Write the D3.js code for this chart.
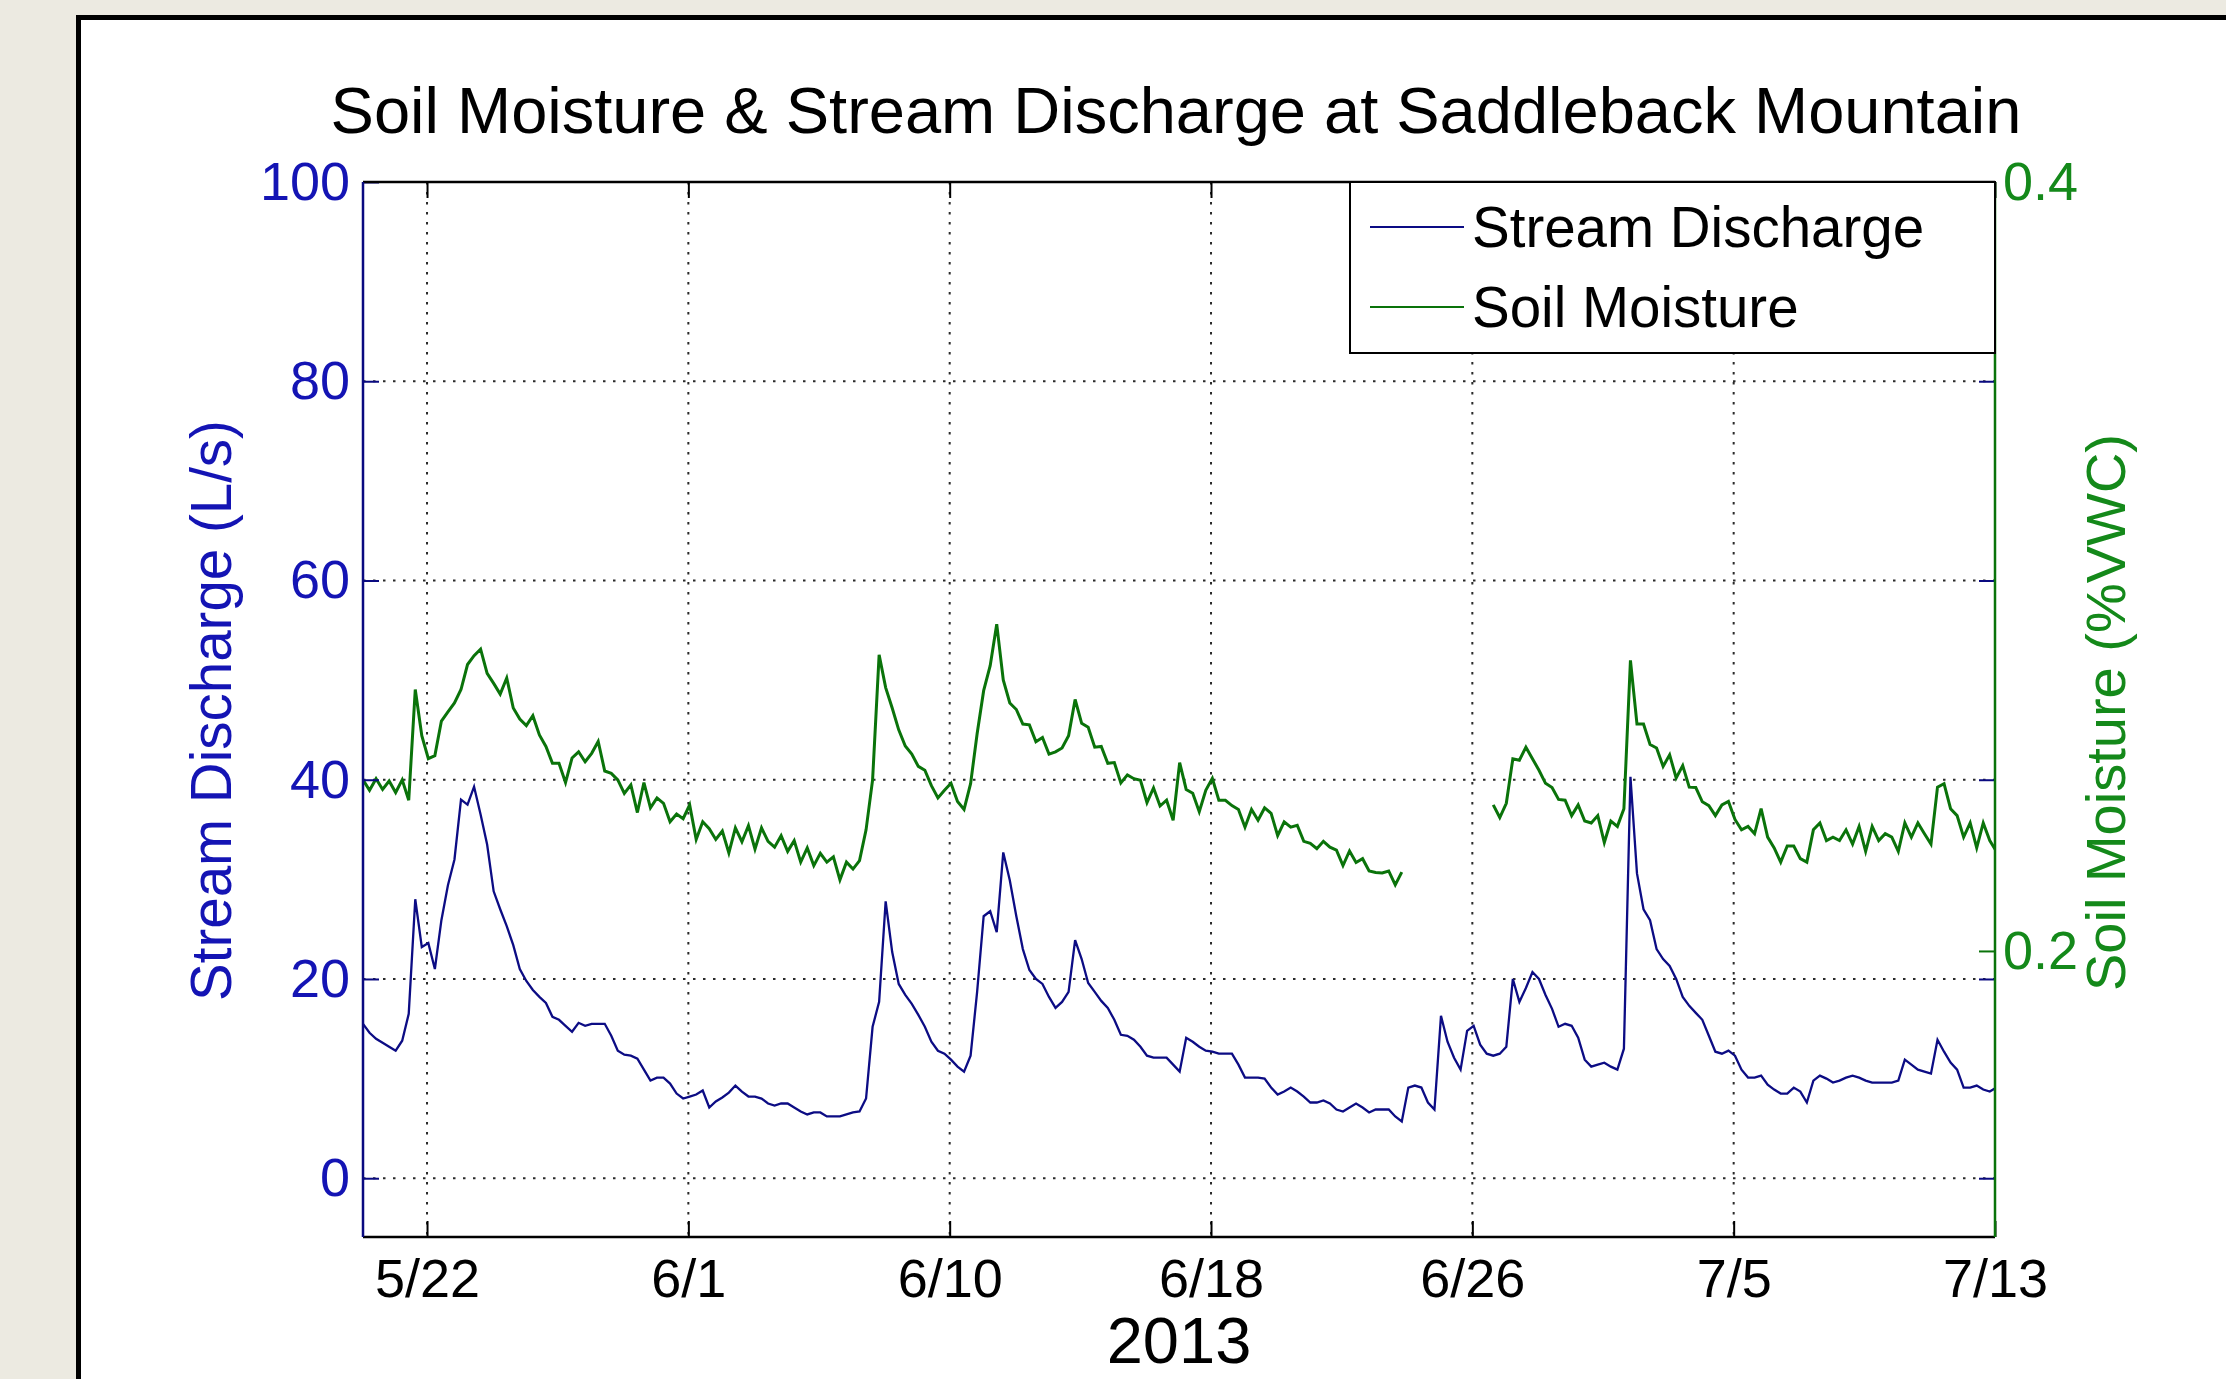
<!DOCTYPE html>
<html><head><meta charset="utf-8">
<script src="https://cdn.jsdelivr.net/npm/d3@7"></script>
<style>
html,body{margin:0;padding:0;background:#ECEAE1;overflow:hidden}
svg{display:block}
text{font-family:"Liberation Sans",Arial,Helvetica,sans-serif}
</style></head><body>
<svg id="chart" width="2226" height="1379"></svg>
<script>
// ---- data ----
const chartTitle = "Soil Moisture & Stream Discharge at Saddleback Mountain";
const seriesNames = ["Stream Discharge", "Soil Moisture"];
const xTickLabels = ["5/22", "6/1", "6/10", "6/18", "6/26", "7/5", "7/13"];
const xTickPos = [0, 1, 2, 3, 4, 5, 6];          // axis position, in tick intervals
const xDomain = [-0.245, 6];
const xAxisLabel = "2013";
const leftTicks = [0, 20, 40, 60, 80, 100];
const leftDomain = [-5.9, 100];
const leftLabel = "Stream Discharge (L/s)";
const rightTicks = [0.2, 0.4];
const rightDomain = [0.1256, 0.4];
const rightLabel = "Soil Moisture (%VWC)";
// regular samples: position = sampleStart + i * sampleStep
const sampleStart = -0.245;
const sampleStep = 0.025;
const discharge = [
  15.5,14.6,14.0,13.6,13.2,12.8,13.8,16.5,28.0,23.2,
  23.6,21.0,25.9,29.4,32.0,38.0,37.5,39.3,36.5,33.5,
  28.8,27.0,25.3,23.4,21.0,19.8,18.9,18.2,17.6,16.2,
  15.9,15.3,14.7,15.6,15.3,15.5,15.5,15.5,14.3,12.8,
  12.4,12.3,12.0,10.9,9.8,10.1,10.1,9.5,8.5,8.0,
  8.2,8.4,8.8,7.1,7.7,8.1,8.6,9.3,8.7,8.2,
  8.2,8.0,7.5,7.3,7.5,7.5,7.1,6.7,6.4,6.6,
  6.6,6.2,6.2,6.2,6.4,6.6,6.7,8.0,15.2,17.7,
  27.8,22.7,19.5,18.4,17.5,16.4,15.2,13.7,12.8,12.5,
  11.9,11.2,10.7,12.3,18.7,26.3,26.8,24.7,32.7,29.9,
  26.3,23.0,20.9,20.0,19.5,18.2,17.1,17.7,18.7,23.9,
  22.0,19.6,18.7,17.8,17.1,15.9,14.4,14.3,13.9,13.2,
  12.3,12.1,12.1,12.1,11.4,10.7,14.1,13.7,13.2,12.8,
  12.7,12.5,12.5,12.5,11.4,10.1,10.1,10.1,10.0,9.1,
  8.4,8.7,9.1,8.7,8.2,7.6,7.6,7.8,7.5,6.9,
  6.7,7.1,7.5,7.1,6.6,6.9,6.9,6.9,6.2,5.7,
  9.1,9.3,9.1,7.6,6.9,16.3,13.7,12.1,10.9,14.8,
  15.3,13.4,12.5,12.3,12.5,13.2,20.0,17.7,19.1,20.7,
  20.0,18.4,17.0,15.2,15.5,15.3,14.1,11.9,11.2,11.4,
  11.6,11.2,10.9,13.0,40.3,30.6,27.0,25.9,23.0,22.0,
  21.3,20.0,18.2,17.3,16.6,15.9,14.3,12.7,12.5,12.8,
  12.3,10.9,10.1,10.1,10.3,9.4,8.9,8.5,8.5,9.1,
  8.7,7.6,9.8,10.3,10.0,9.6,9.8,10.1,10.3,10.1,
  9.8,9.6,9.6,9.6,9.6,9.8,11.9,11.4,10.9,10.7,
  10.5,13.9,12.7,11.6,10.9,9.1,9.1,9.3,8.9,8.7,
  9.1
];
const soilMoisture = [
  .2445,.2418,.2448,.2420,.2442,.2412,.2445,.2392,.2680,.2560,
  .2500,.2508,.2598,.2622,.2645,.2680,.2745,.2768,.2785,.2722,
  .2696,.2668,.2710,.2632,.2603,.2586,.2612,.2562,.2532,.2488,
  .2488,.2438,.2502,.2518,.2492,.2514,.2545,.2468,.2462,.2445,
  .2410,.2432,.2360,.2438,.2372,.2398,.2384,.2336,.2356,.2344,
  .2380,.2290,.2336,.2318,.2290,.2312,.2255,.2320,.2284,.2326,
  .2265,.2320,.2285,.2270,.2300,.2259,.2287,.2231,.2268,.2222,
  .2254,.2231,.2245,.2185,.2231,.2213,.2235,.2315,.2445,.2770,
  .2685,.2632,.2575,.2533,.2512,.2480,.2470,.2430,.2398,.2418,
  .2436,.2389,.2368,.2435,.2565,.2677,.2742,.2850,.2705,.2645,
  .2628,.2590,.2588,.2544,.2555,.2512,.2518,.2528,.2560,.2654,
  .2592,.2582,.2530,.2532,.2488,.2490,.2437,.2458,.2448,.2444,
  .2386,.2424,.2377,.2392,.2340,.2490,.2420,.2410,.2362,.2418,
  .2449,.2392,.2392,.2378,.2368,.2322,.2368,.2340,.2372,.2358,
  .2300,.2336,.2322,.2327,.2285,.2280,.2266,.2285,.2270,.2262,
  .2222,.2260,.2230,.2240,.2208,.2204,.2203,.2208,.2172,.2205,
  null,null,null,null,null,null,null,null,null,null,
  null,null,null,.2380,.2347,.2384,.2500,.2496,.2530,.2500,
  .2470,.2436,.2425,.2394,.2392,.2352,.2380,.2338,.2333,.2352,
  .2282,.2338,.2324,.2370,.2756,.2590,.2590,.2537,.2528,.2480,
  .2510,.2450,.2482,.2426,.2425,.2388,.2378,.2352,.2380,.2389,
  .2342,.2315,.2324,.2305,.2370,.2296,.2268,.2231,.2273,.2273,
  .2240,.2231,.2315,.2333,.2287,.2296,.2287,.2315,.2278,.2324,
  .2259,.2324,.2287,.2305,.2296,.2259,.2333,.2296,.2333,.2305,
  .2278,.2426,.2435,.2370,.2352,.2296,.2333,.2268,.2333,.2287,
  .2259
];

// ---- layout / style ----
const W = 2226, H = 1379;
const P = {left: 363, right: 1995, top: 182, bottom: 1237};
const BLUE_LINE = "#0c0c84", BLUE_TEXT = "#1414b4", BLUE_AXIS = "#0a0a80";
const GREEN_LINE = "#0a730a", GREEN_TEXT = "#14891a";
const FONT = '"Liberation Sans", Arial, sans-serif';

const svg = d3.select("#chart");
svg.append("rect").attr("width", W).attr("height", H).attr("fill", "#ECEAE1");
svg.append("rect").attr("x", 78.5).attr("y", 17.5).attr("width", 2400).attr("height", 1600)
  .attr("fill", "#fff").attr("stroke", "#000").attr("stroke-width", 5);

const x = d3.scaleLinear().domain(xDomain).range([P.left, P.right]);
const yL = d3.scaleLinear().domain(leftDomain).range([P.bottom, P.top]);
const yR = d3.scaleLinear().domain(rightDomain).range([P.bottom, P.top]);

// grid
const grid = svg.append("g").attr("stroke", "#2a2a2a").attr("stroke-width", 2)
  .attr("stroke-dasharray", "2.5 7.5");
grid.selectAll(".gx").data(xTickPos.slice(0, -1)).join("line")
  .attr("x1", d => x(d)).attr("x2", d => x(d)).attr("y1", P.top).attr("y2", P.bottom);
grid.selectAll(".gy").data(leftTicks.slice(0, -1)).join("line")
  .attr("x1", P.left).attr("x2", P.right).attr("y1", d => yL(d)).attr("y2", d => yL(d));

// data lines
svg.append("clipPath").attr("id", "clip").append("rect")
  .attr("x", P.left).attr("y", P.top).attr("width", P.right - P.left).attr("height", P.bottom - P.top);
const dData = discharge.map((v, i) => ({t: sampleStart + i * sampleStep, v}));
const sData = soilMoisture.map((v, i) => ({t: sampleStart + i * sampleStep, v}));
const gData = svg.append("g").attr("clip-path", "url(#clip)");
gData.append("path").datum(sData).attr("fill", "none").attr("stroke", GREEN_LINE).attr("stroke-width", 3)
  .attr("stroke-linejoin", "miter")
  .attr("d", d3.line().defined(d => d.v != null).x(d => x(d.t)).y(d => yR(d.v)));
gData.append("path").datum(dData).attr("fill", "none").attr("stroke", BLUE_LINE).attr("stroke-width", 2.3)
  .attr("d", d3.line().defined(d => d.v != null).x(d => x(d.t)).y(d => yL(d.v)));

// axes
const TK = 16, FS = 54;
function styleAxis(g, color) {
  g.select(".domain").remove();
  g.selectAll(".tick line").attr("stroke", color).attr("stroke-width", 2);
  g.selectAll(".tick text").attr("fill", color).style("font-size", FS + "px").style("font-family", FONT);
}
svg.append("g").attr("transform", `translate(0,${P.bottom})`)
  .call(d3.axisBottom(x).tickValues(xTickPos).tickFormat(i => xTickLabels[i]).tickSizeInner(-TK).tickSizeOuter(0).tickPadding(22))
  .call(g => styleAxis(g, "#000"));
svg.append("g").attr("transform", `translate(0,${P.top})`)
  .call(d3.axisTop(x).tickValues(xTickPos).tickFormat("").tickSizeInner(-TK).tickSizeOuter(0))
  .call(g => styleAxis(g, "#000"));
svg.append("g").attr("transform", `translate(${P.left},0)`)
  .call(d3.axisLeft(yL).tickValues(leftTicks).tickFormat(d3.format("d")).tickSizeInner(-TK).tickSizeOuter(0).tickPadding(13))
  .call(g => styleAxis(g, BLUE_AXIS))
  .call(g => g.selectAll(".tick text").attr("fill", BLUE_TEXT));
svg.append("g").attr("transform", `translate(${P.right},0)`)
  .call(d3.axisRight(yL).tickValues(leftTicks).tickFormat("").tickSizeInner(-TK).tickSizeOuter(0))
  .call(g => styleAxis(g, BLUE_AXIS));
svg.append("g").attr("transform", `translate(${P.right},0)`)
  .call(d3.axisRight(yR).tickValues(rightTicks).tickFormat(d3.format(".1f")).tickSizeInner(-TK).tickSizeOuter(0).tickPadding(8))
  .call(g => styleAxis(g, GREEN_LINE))
  .call(g => g.selectAll(".tick text").attr("fill", GREEN_TEXT));

// spines
const sp = svg.append("g").attr("stroke-width", 2.5);
sp.append("line").attr("x1", P.left).attr("x2", P.right).attr("y1", P.top).attr("y2", P.top).attr("stroke", "#000");
sp.append("line").attr("x1", P.left).attr("x2", P.right).attr("y1", P.bottom).attr("y2", P.bottom).attr("stroke", "#000");
sp.append("line").attr("x1", P.left).attr("x2", P.left).attr("y1", P.top).attr("y2", P.bottom).attr("stroke", BLUE_AXIS);
sp.append("line").attr("x1", P.right).attr("x2", P.right).attr("y1", P.top).attr("y2", P.bottom).attr("stroke", GREEN_LINE);

// titles
svg.append("text").attr("x", (P.left + P.right) / 2 - 3).attr("y", 133).attr("text-anchor", "middle")
  .style("font-size", "65px").attr("fill", "#000").text(chartTitle);
svg.append("text").attr("x", (P.left + P.right) / 2).attr("y", 1363).attr("text-anchor", "middle")
  .style("font-size", "65px").attr("fill", "#000").text(xAxisLabel);
svg.append("text").attr("transform", `translate(231,${(P.top + P.bottom) / 2 + 1}) rotate(-90)`)
  .attr("text-anchor", "middle").style("font-size", "56.5px").attr("fill", BLUE_TEXT).text(leftLabel);
svg.append("text").attr("transform", `translate(2125,${(P.top + P.bottom) / 2 + 3}) rotate(-90)`)
  .attr("text-anchor", "middle").style("font-size", "56px").attr("fill", GREEN_TEXT).text(rightLabel);

// legend
const lg = svg.append("g");
lg.append("rect").attr("x", 1350).attr("y", P.top).attr("width", P.right - 1350).attr("height", 171)
  .attr("fill", "#fff").attr("stroke", "#000").attr("stroke-width", 2);
const legendColors = [BLUE_LINE, GREEN_LINE];
seriesNames.forEach((name, k) => {
  const cy = 227 + k * 80;
  lg.append("line").attr("x1", 1370).attr("x2", 1464).attr("y1", cy).attr("y2", cy)
    .attr("stroke", legendColors[k]).attr("stroke-width", 2);
  lg.append("text").attr("x", 1472).attr("y", cy + 20).style("font-size", "56.5px").attr("fill", "#000").text(name);
});
</script>
</body></html>
